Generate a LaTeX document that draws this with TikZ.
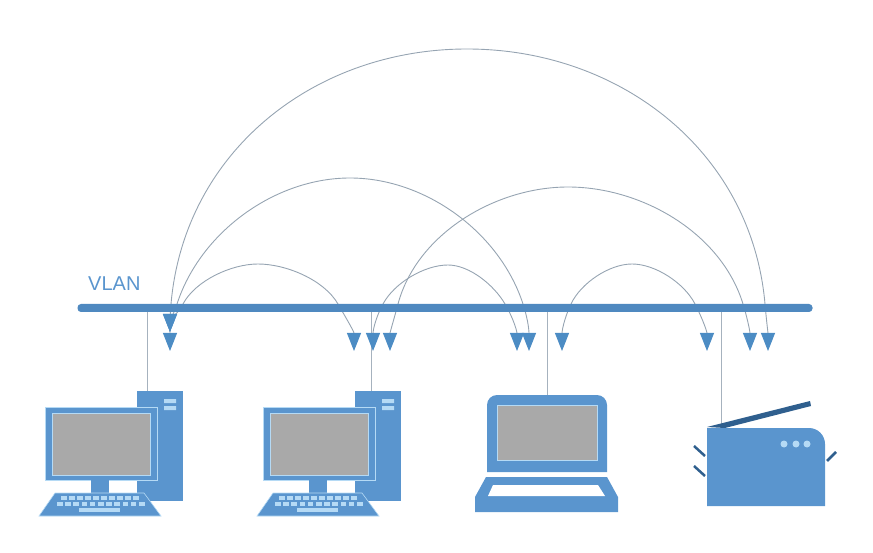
\documentclass[tikz,border=0pt]{standalone}
\usepackage{fontspec}
\setmainfont{Liberation Sans}
\usetikzlibrary{arrows.meta}
\definecolor{iconblue}{HTML}{5A95CE}
\definecolor{barblue}{HTML}{4F89C0}
\definecolor{tipblue}{HTML}{4C8CC4}
\definecolor{edgeblue}{HTML}{B5DAF5}
\definecolor{lidblue}{HTML}{2F5F8E}
\definecolor{screengrey}{HTML}{A9A9A9}
\definecolor{linkgrey}{HTML}{96A4B2}
\tikzset{
  link/.style={draw=linkgrey,line width=0.9pt,
    {Triangle[length=18pt,width=14pt,color=tipblue]}-{Triangle[length=18pt,width=14pt,color=tipblue]}},
  drop/.style={draw=linkgrey!85,line width=0.9pt},
  icon/.style={fill=iconblue,draw=none},
  screen/.style={fill=screengrey,draw=edgeblue,line width=1pt},
  keycap/.style={fill=edgeblue,draw=none},
  pc/.pic={
    \path[icon] (137,391) rectangle (183,501);
    \path[fill=edgeblue] (164,399) rectangle (176,403) (164,406) rectangle (176,410);
    \path[icon,draw=edgeblue,line width=1pt] (45,407) rectangle (157,480);
    \path[screen] (52,413) rectangle (150,475);
    \path[icon] (91,480) rectangle (109,493);
    \path[icon,draw=edgeblue,line width=0.6pt] (55,493) -- (144,493) -- (161,516) -- (39,516) -- cycle;
    \foreach \i in {0,...,9} \path[keycap] (61+8*\i,496) rectangle ++(5.5,4);
    \foreach \i in {0,...,10} \path[keycap] (57+8.2*\i,502) rectangle ++(5.5,4);
    \path[keycap] (79,508) rectangle (120,512);
  }
}
\begin{document}
\begin{tikzpicture}[x=1pt,y=-1pt]
    \useasboundingbox (0,0) rectangle (873,553);

    % device tops
    \coordinate (pc1top) at (147,391);
    \coordinate (pc2top) at (371,391);
    \coordinate (laptoptop) at (547,395);
    \coordinate (printertop) at (721,425);

    % arc ends
    \coordinate (a1) at (170,351);
    \coordinate (a2) at (170,332);
    \coordinate (b1) at (354,351);
    \coordinate (c1) at (373,351);
    \coordinate (c2) at (390,351);
    \coordinate (d1) at (517,351);
    \coordinate (d2) at (529,351);
    \coordinate (e1) at (562,351);
    \coordinate (f1) at (707,351);
    \coordinate (g1) at (750,351);
    \coordinate (g2) at (768,351);

    % arc tops
    \coordinate (t1) at (467,49);
    \coordinate (t2) at (350,178);
    \coordinate (t3) at (258,264);
    \coordinate (t4) at (568,187);
    \coordinate (t5) at (448,265);
    \coordinate (t6) at (632,264);

    % where the arcs cross the bar
    \coordinate (l1) at (171,304);
    \coordinate (r1) at (765,304);
    \coordinate (l2) at (177,304);
    \coordinate (r2) at (523,304);
    \coordinate (l3) at (183,304);
    \coordinate (r3) at (338,304);
    \coordinate (l4) at (398,304);
    \coordinate (r4) at (743,304);
    \coordinate (l5) at (383,304);
    \coordinate (r5) at (505,304);
    \coordinate (l6) at (571,304);
    \coordinate (r6) at (695,304);

    \draw[drop] (pc1top) -- (147,308);
    \draw[drop] (pc2top) -- (371,308);
    \draw[drop] (laptoptop) -- (547,308);
    \draw[drop] (printertop) -- (721,308);

    \path[link] (a1) to[out=90,in=-95] (l1) to[out=85,in=180] (t1) to[out=0,in=95] (r1) to[out=-85,in=90] (g2);
    \path[link] (a2) to[out=90,in=-108] (l2) to[out=72,in=180,looseness=0.9] (t2) to[out=0,in=108,looseness=0.9] (r2) to[out=-72,in=90] (d2);
    \path[link] (a2) to[out=90,in=-118] (l3) to[out=62,in=180,looseness=0.8] (t3) to[out=0,in=120,looseness=0.8] (r3) to[out=-60,in=90] (b1);
    \path[link] (c2) to[out=90,in=-105] (l4) to[out=75,in=180,looseness=0.9] (t4) to[out=0,in=107,looseness=0.9] (r4) to[out=-73,in=90] (g1);
    \path[link] (c1) to[out=90,in=-118] (l5) to[out=62,in=180,looseness=0.8] (t5) to[out=0,in=120,looseness=0.8] (r5) to[out=-60,in=90] (d1);
    \path[link] (e1) to[out=90,in=-115] (l6) to[out=65,in=180,looseness=0.8] (t6) to[out=0,in=117,looseness=0.8] (r6) to[out=-63,in=90] (f1);

    \node[fill=barblue,rounded corners=3.5pt,minimum width=735pt,minimum height=8pt,inner sep=0pt] (bar) at (445,308) {};
    \node[text=iconblue,font=\fontsize{20}{24}\selectfont,inner sep=0pt,anchor=west] (vlan) at (88,284) {VLAN};

    \pic (pc1) at (0,0) {pc};
    \pic (pc2) at (218,0) {pc};

    % laptop
    \path[icon,rounded corners=10pt] (487,472) [sharp corners] -- (487,440) [rounded corners=10pt] -- (487,395) -- (607,395) -- (607,440) [sharp corners] -- (607,472) -- cycle;
    \path[screen] (497,405) rectangle (597,460);
    \path[icon] (486,477) -- (607,477) -- (618,497) -- (618,512) -- (475,512) -- (475,497) -- cycle;
    \path[fill=white] (493,485) -- (598,485) -- (605,496) -- (488,496) -- cycle;

    % printer
    \path[fill=lidblue] (707,427) -- (810,401) -- (811,406) -- (725,428) -- cycle;
    \path[icon] (707,506) -- (707,428) -- (809,428) arc[start angle=90,end angle=0,x radius=16,y radius=-16] -- (825,506) -- cycle;
    \foreach \x in {784,796,807} \path[fill=edgeblue] (\x,444) circle[radius=3.5];
    \draw[lidblue,line width=2.5pt] (694,446) -- (705,456) (694,466) -- (705,476) (827,461) -- (836,452);
\end{tikzpicture}
\end{document}
